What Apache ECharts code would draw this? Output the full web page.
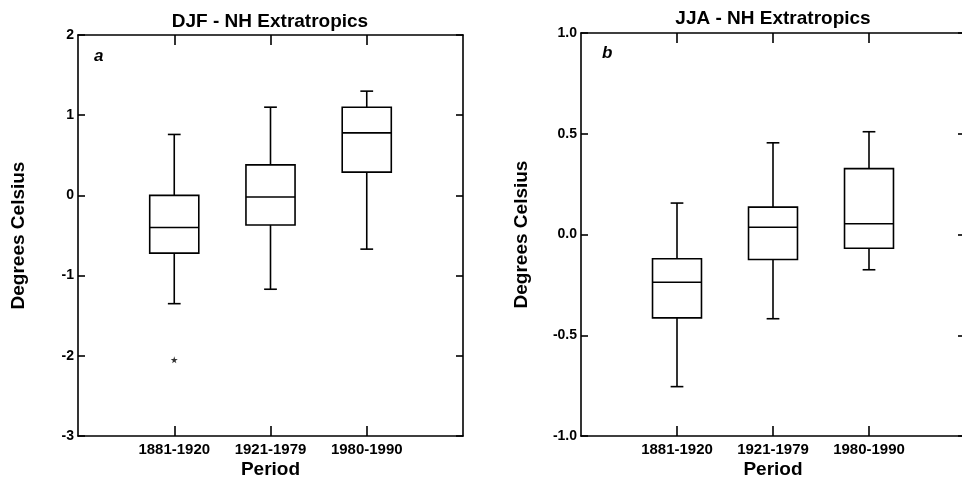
<!DOCTYPE html>
<html>
<head>
<meta charset="utf-8">
<script src="https://cdn.jsdelivr.net/npm/echarts@6/dist/echarts.min.js"></script>
<style>
html,body{margin:0;padding:0;background:#fff;}
#chart{width:962px;height:478px;}
</style>
</head>
<body>
<div id="chart"></div>
<script>
// ---- Data ----
const categories = ['1881-1920', '1921-1979', '1980-1990'];
// Panel a: DJF - NH Extratropics
const djfLow  = [-1.35, -1.17, -0.67];
const djfQ1   = [-0.72, -0.37, 0.29];
const djfMed  = [-0.40, -0.02, 0.78];
const djfQ3   = [0.00, 0.38, 1.10];
const djfHigh = [0.76, 1.10, 1.30];
const djfOutlierCat = [0];
const djfOutlierVal = [-2.05];
// Panel b: JJA - NH Extratropics
const jjaLow  = [-0.755, -0.418, -0.175];
const jjaQ1   = [-0.414, -0.124, -0.068];
const jjaMed  = [-0.237, 0.036, 0.053];
const jjaQ3   = [-0.120, 0.136, 0.327];
const jjaHigh = [0.156, 0.455, 0.51];
// Tick labels
const djfTicks = ['-3', '-2', '-1', '0', '1', '2'];
const jjaTicks = ['-1.0', '-0.5', '0.0', '0.5', '1.0'];

const FONT = "'Liberation Sans', Arial, Helvetica, sans-serif";
const catPos = categories.map((c, i) => i + 1);

function boxData(lo, q1, med, q3, hi) {
  return categories.map((c, i) => [catPos[i], lo[i], q1[i], med[i], q3[i], hi[i]]);
}

function renderBox(params, api) {
  const x = api.value(0);
  const pLo = api.coord([x, api.value(1)]);
  const pQ1 = api.coord([x, api.value(2)]);
  const pMed = api.coord([x, api.value(3)]);
  const pQ3 = api.coord([x, api.value(4)]);
  const pHi = api.coord([x, api.value(5)]);
  const bw = api.size([1, 0])[0] * 0.51;
  const cw = bw * 0.26;
  const cx = pMed[0];
  const ls = { stroke: '#000', lineWidth: 1.6 };
  return {
    type: 'group',
    children: [
      { type: 'line', shape: { x1: cx, y1: pQ3[1], x2: cx, y2: pHi[1] }, style: ls },
      { type: 'line', shape: { x1: cx - cw / 2, y1: pHi[1], x2: cx + cw / 2, y2: pHi[1] }, style: ls },
      { type: 'line', shape: { x1: cx, y1: pQ1[1], x2: cx, y2: pLo[1] }, style: ls },
      { type: 'line', shape: { x1: cx - cw / 2, y1: pLo[1], x2: cx + cw / 2, y2: pLo[1] }, style: ls },
      { type: 'rect', shape: { x: cx - bw / 2, y: pQ3[1], width: bw, height: pQ1[1] - pQ3[1] },
        style: { fill: '#fff', stroke: '#000', lineWidth: 1.6 } },
      { type: 'line', shape: { x1: cx - bw / 2, y1: pMed[1], x2: cx + bw / 2, y2: pMed[1] }, style: ls }
    ]
  };
}

const axisLineStyle = { color: '#000', width: 1.6 };

function xAxes(gridIndex) {
  return [
    {
      type: 'value', gridIndex: gridIndex, position: 'bottom', min: 0, max: 4, interval: 1,
      name: 'Period', nameLocation: 'middle', nameGap: 24, nameMoveOverlap: false,
      nameTextStyle: { fontFamily: FONT, fontSize: 19, fontWeight: 'bold', color: '#000', verticalAlign: 'top' },
      axisLine: { show: true, onZero: false, lineStyle: axisLineStyle },
      axisTick: { show: true, inside: true, length: 10, lineStyle: axisLineStyle, customValues: catPos },
      axisLabel: { show: true, margin: 6, fontFamily: FONT, fontSize: 15, fontWeight: 'bold', color: '#000',
        customValues: catPos, formatter: v => categories[v - 1] || '' },
      splitLine: { show: false }
    },
    {
      type: 'value', gridIndex: gridIndex, position: 'top', min: 0, max: 4, interval: 1,
      axisLine: { show: true, onZero: false, lineStyle: axisLineStyle },
      axisTick: { show: true, inside: true, length: 10, lineStyle: axisLineStyle, customValues: catPos },
      axisLabel: { show: false },
      splitLine: { show: false }
    }
  ];
}

function yAxes(gridIndex, min, max, interval, labels) {
  const fmt = v => labels[Math.round((v - min) / interval)];
  return [
    {
      type: 'value', gridIndex: gridIndex, position: 'left', min: min, max: max, interval: interval,
      name: 'Degrees Celsius', nameLocation: 'middle', nameGap: 50, nameRotate: 90, nameMoveOverlap: false,
      nameTextStyle: { fontFamily: FONT, fontSize: 19, fontWeight: 'bold', color: '#000' },
      axisLine: { show: true, onZero: false, lineStyle: axisLineStyle },
      axisTick: { show: true, inside: true, length: 7, lineStyle: axisLineStyle },
      axisLabel: { show: true, margin: 4, fontFamily: FONT, fontSize: 14, fontWeight: 'bold', color: '#000', formatter: fmt },
      splitLine: { show: false }
    },
    {
      type: 'value', gridIndex: gridIndex, position: 'right', min: min, max: max, interval: interval,
      axisLine: { show: true, onZero: false, lineStyle: axisLineStyle },
      axisTick: { show: true, inside: true, length: 7, lineStyle: axisLineStyle },
      axisLabel: { show: false },
      splitLine: { show: false }
    }
  ];
}

const chart = echarts.init(document.getElementById('chart'), null, { renderer: 'canvas', width: 962, height: 478 });

const starPath = 'path://M50,0 L61,35 L98,35 L68,57 L79,91 L50,70 L21,91 L32,57 L2,35 L39,35 Z';

chart.setOption({
  backgroundColor: '#fff',
  animation: false,
  title: [
    { text: 'DJF - NH Extratropics', left: 270, top: 12, textAlign: 'center', padding: 0,
      textStyle: { fontFamily: FONT, fontSize: 19, fontWeight: 'bold', color: '#000' } },
    { text: 'JJA - NH Extratropics', left: 773, top: 9, textAlign: 'center', padding: 0,
      textStyle: { fontFamily: FONT, fontSize: 19, fontWeight: 'bold', color: '#000' } }
  ],
  grid: [
    { left: 78, width: 385, top: 35, height: 401, outerBoundsMode: 'none', containLabel: false },
    { left: 581, width: 384, top: 33, height: 403, outerBoundsMode: 'none', containLabel: false }
  ],
  xAxis: xAxes(0).concat(xAxes(1)),
  yAxis: yAxes(0, -3, 2, 1, djfTicks).concat(yAxes(1, -1, 1, 0.5, jjaTicks)),
  graphic: [
    { type: 'text', left: 94, top: 48, style: { text: 'a', font: "italic bold 17px " + FONT, fill: '#000' } },
    { type: 'text', left: 602, top: 45, style: { text: 'b', font: "italic bold 17px " + FONT, fill: '#000' } }
  ],
  series: [
    { type: 'custom', xAxisIndex: 0, yAxisIndex: 0, renderItem: renderBox,
      data: boxData(djfLow, djfQ1, djfMed, djfQ3, djfHigh), encode: { x: 0, y: [1, 2, 3, 4, 5] } },
    { type: 'scatter', xAxisIndex: 0, yAxisIndex: 0, symbol: starPath, symbolSize: 7,
      itemStyle: { color: '#000' },
      data: djfOutlierCat.map((c, i) => [catPos[c], djfOutlierVal[i]]) },
    { type: 'custom', xAxisIndex: 2, yAxisIndex: 2, renderItem: renderBox,
      data: boxData(jjaLow, jjaQ1, jjaMed, jjaQ3, jjaHigh), encode: { x: 0, y: [1, 2, 3, 4, 5] } }
  ]
});
</script>
</body>
</html>
